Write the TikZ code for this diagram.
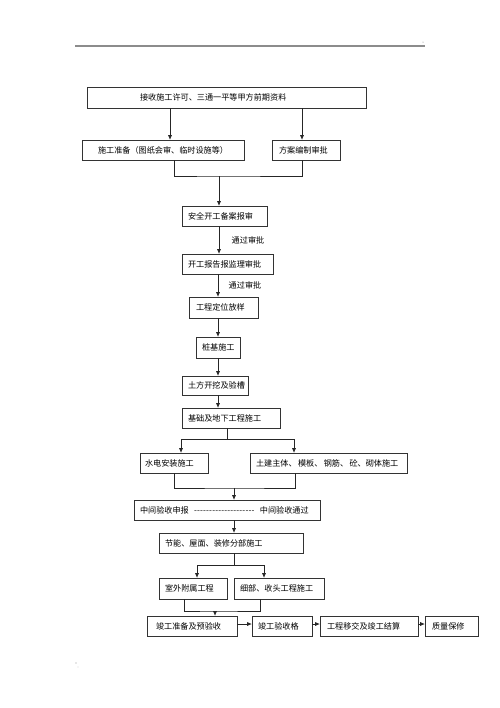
\documentclass[tikz,border=0pt]{standalone}
\usepackage{fontspec}
\setmainfont{Noto Sans CJK SC}
\usetikzlibrary{arrows.meta}
\tikzset{
  fbox/.style={draw=black!80, line width=0.6pt, rectangle, inner ysep=0pt, outer sep=0pt, align=left,
    font=\fontsize{6.1}{7}\selectfont},
  conn/.style={draw=black!85, line width=0.6pt},
  arr/.style={conn, -{Latex[length=3.6pt,width=3pt]}},
  lbl/.style={font=\fontsize{6.1}{7}\selectfont, inner sep=0pt}
}
\newcommand{\hy}{\hbox{-}\kern0.15pt}
\newcommand{\hyrow}{\hy\hy\hy\hy\hy\hy\hy\hy\hy\hy\hy\hy\hy\hy\hy\hy\hy\hy\hy\hy}
% name, x1, y1, x2, y2, pad, text
\newcommand{\flowbox}[7]{%
  \node[fbox, minimum width={(#4-#2)*0.75pt}, minimum height={(#5-#3)*0.75pt},
        inner xsep={#6*0.75pt}, text width={(#4-#2-2*#6)*0.75pt}]
     (#1) at ({(#2+#4)/2},{(#3+#5)/2}) {#7};}
\begin{document}
\begin{tikzpicture}[x=0.75pt,y=-0.75pt]
\useasboundingbox (0,0) rectangle (500,708);
\fill[white] (0,0) rectangle (500,708);
% header rule
\coordinate (hl) at (75,46);
\coordinate (hr) at (425,46);
\draw[black!45, line width=0.8pt] (hl) -- (hr);
\fill[black!50] (423,42) circle (0.5);
\fill[black!40] (76,663) circle (0.6);
\fill[black!40] (78,667) circle (0.4);

\flowbox{b1}{87}{87}{366}{108}{53}{接收施工许可、三通一平等甲方前期资料}
\flowbox{b2}{82}{140}{244}{160}{16}{施工准备（图纸会审、临时设施等）}
\flowbox{b3}{272}{140}{340}{160}{7}{方案编制审批}
\flowbox{b4}{182}{206}{267}{226}{6}{安全开工备案报审}
\flowbox{b5}{182}{254}{273}{274}{6}{开工报告报监理审批}
\flowbox{b6}{189}{297}{258}{318}{7}{工程定位放样}
\flowbox{b7}{196}{337}{240}{358}{6}{桩基施工}
\flowbox{b8}{182}{376}{248}{395}{6}{土方开挖及验槽}
\flowbox{b9}{182}{408}{280}{428}{6}{基础及地下工程施工}
\flowbox{b10}{140}{453}{208}{473}{5}{水电安装施工}
\flowbox{b11}{250}{453}{407}{473}{6}{土建主体、\,模板、\,钢筋、\,砼、砌体施工}
\flowbox{b12}{134}{500}{320}{520}{6}{中间验收申报\hspace{4pt}\hyrow\hspace{4pt}中间验收通过}
\flowbox{b13}{159}{533}{303}{553}{6}{节能、屋面、装修分部施工}
\flowbox{b14}{159}{578}{227}{599}{6}{室外附属工程}
\flowbox{b15}{234}{578}{324}{599}{6}{细部、收头工程施工}
\flowbox{b16}{147}{616}{237}{636}{9}{竣工准备及预验收}
\flowbox{b17}{252}{616}{312}{636}{6}{竣工验收格}
\flowbox{b18}{320}{616}{418}{636}{7}{工程移交及竣工结算}
\flowbox{b19}{425}{616}{478}{636}{7}{质量保修}

% x reference coordinates
\coordinate (x170) at (170,0);
\coordinate (x302) at (302,0);
\coordinate (x174) at (174,0);
\coordinate (x218) at (218,0);
\coordinate (x181) at (181,0);
\coordinate (x294) at (294,0);
\coordinate (x295) at (295,0);
\coordinate (x184) at (184,0);
\coordinate (x197) at (197,0);
\coordinate (x260) at (260,0);
\coordinate (x264) at (264,0);
\coordinate (y624) at (0,624);

\draw[arr] (b1.south -| x170) -- (b2.north -| x170);
\draw[arr] (b1.south -| x302) -- (b3.north -| x302);

\coordinate (m1) at (219,176);
\draw[conn] (b2.south -| x174) |- (m1) -| (b3.south -| x302);
\draw[arr] (m1) -- (b4.north -| m1);
\draw[arr] (b4.south -| m1) -- (b5.north -| m1);
\node[lbl] (t1) at (248,240) {通过审批};
\draw[arr] (b5.south -| x218) -- (b6.north -| x218);
\node[lbl] (t2) at (245,285) {通过审批};
\draw[arr] (b6.south -| x218) -- (b7.north -| x218);
\draw[arr] (b7.south -| x218) -- (b8.north -| x218);
\draw[arr] (b8.south -| x218) -- (b9.north -| x218);

\coordinate (m2) at (227,439);
\draw[conn] (b9.south -| m2) -- (m2);
\draw[arr] (m2) -| (b10.north -| x181);
\draw[arr] (m2) -| (b11.north -| x294);

\coordinate (m3) at (234,488);
\draw[conn] (b10.south -| x174) |- (m3) -| (b11.south -| x295);
\draw[arr] (m3) -- (b12.north -| m3);
\draw[arr] (b12.south -| m3) -- (b13.north -| m3);

\coordinate (m4) at (234,565);
\draw[conn] (b13.south -| m4) -- (m4);
\draw[arr] (m4) -| (b14.north -| x197);
\draw[arr] (m4) -| (b15.north -| x264);

\coordinate (m5) at (215,611);
\draw[conn] (b14.south -| x184) |- (m5) -| (b15.south -| x260);
\draw[arr] (m5) -- (b16.north -| m5);

\draw[arr] (b16.east |- y624) -- (b17.west |- y624);
\draw[arr] (b17.east |- y624) -- (b18.west |- y624);
\draw[arr] (b18.east |- y624) -- (b19.west |- y624);
\end{tikzpicture}
\end{document}
